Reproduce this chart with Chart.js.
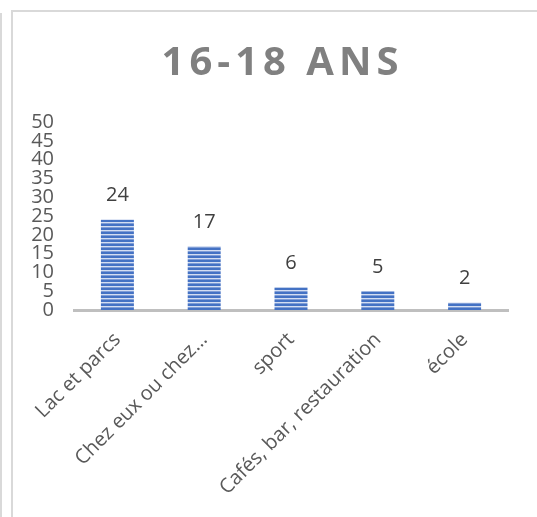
<!DOCTYPE html>
<html>
<head>
<meta charset="utf-8">
<script src="https://cdn.jsdelivr.net/npm/chart.js@4"></script>
<style>
  html, body { margin: 0; padding: 0; background: #fff; }
  #wrap { position: relative; width: 537px; height: 517px; overflow: hidden; }
  #grafik { position: absolute; left: 0; top: 0; }
  .edge { position: absolute; background: #d9d9d9; }
  #titre {
    position: absolute; left: 14px; top: 40px; width: 537px;
    text-align: center; font: bold 40px "Open Sans", sans-serif; line-height: 40px;
    letter-spacing: 5px; color: #808080;
  }
</style>
</head>
<body>
<div id="wrap">
  <div class="edge" style="left:0;top:13px;width:2px;height:504px"></div>
  <div class="edge" style="left:11px;top:10px;width:2px;height:507px"></div>
  <div class="edge" style="left:11px;top:10px;width:526px;height:2px"></div>
  <canvas id="grafik" width="537" height="517"></canvas>
  <div id="titre">16-18 ANS</div>
</div>
<script>
const categories = ['Lac et parcs', 'Chez eux ou chez…', 'sport', 'Cafés, bar, restauration', 'école'];
const valeurs = [24, 17, 6, 5, 2];
const yMin = 0, yMax = 50, yStep = 5;

document.addEventListener('DOMContentLoaded', function() {
    // motif rayé des barres
    const tile = document.createElement('canvas');
    tile.width = 4; tile.height = 4;
    const t = tile.getContext('2d');
    t.fillStyle = '#4472C4'; t.fillRect(0, 0, 4, 2);
    t.fillStyle = '#D3DEF2'; t.fillRect(0, 2, 4, 1);
    t.fillStyle = '#7F9DD6'; t.fillRect(0, 3, 4, 1);
    const ctx = document.getElementById('grafik').getContext('2d');
    const motif = ctx.createPattern(tile, 'repeat');

    const etiquettes = {
        id: 'etiquettes',
        afterDatasetsDraw: function(chart) {
            const c = chart.ctx;
            c.save();
            c.font = '20px "Open Sans", sans-serif';
            c.fillStyle = '#404040';
            c.textAlign = 'center';
            c.textBaseline = 'middle';
            chart.getDatasetMeta(0).data.forEach(function(bar, i) {
                c.fillText(String(valeurs[i]), bar.x, bar.y - 24);
            });
            c.restore();
        }
    };

    new Chart(ctx, {
        type: 'bar',
        data: {
            labels: categories,
            datasets: [{
                data: valeurs,
                backgroundColor: motif,
                borderWidth: 0,
                categoryPercentage: 1,
                barPercentage: 0.38
            }]
        },
        options: {
            responsive: false,
            animation: false,
            layout: { padding: { left: 10, right: 29, top: 122, bottom: 0 } },
            plugins: {
                legend: { display: false },
                tooltip: { enabled: false }
            },
            scales: {
                y: {
                    min: yMin,
                    max: yMax,
                    afterFit: function(s) { s.width = 64; },
                    grid: { display: false, drawTicks: false },
                    border: { display: false },
                    ticks: {
                        stepSize: yStep,
                        autoSkip: false,
                        padding: 20,
                        color: '#595959',
                        font: { family: '"Open Sans", sans-serif', size: 20 }
                    }
                },
                x: {
                    afterFit: function(s) { s.height = 207; },
                    grid: { display: false, drawTicks: false },
                    border: { display: true, color: '#BFBFBF', width: 3 },
                    ticks: {
                        minRotation: 45,
                        maxRotation: 45,
                        autoSkip: false,
                        padding: 18,
                        color: '#595959',
                        font: { family: '"Open Sans", sans-serif', size: 20 }
                    }
                }
            }
        },
        plugins: [etiquettes]
    });
});
</script>
</body>
</html>
